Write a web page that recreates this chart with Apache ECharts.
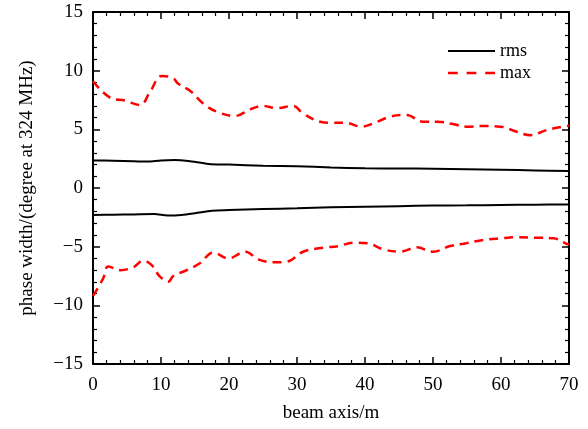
<!DOCTYPE html>
<html>
<head>
<meta charset="utf-8">
<script src="https://cdn.jsdelivr.net/npm/echarts@6/dist/echarts.min.js"></script>
<style>html,body{margin:0;padding:0;background:#fff}#c{width:588px;height:429px}</style>
</head>
<body>
<div id="c"></div>
<script>
// beam axis positions (m) and phase widths (degree at 324 MHz)
const rmsUpperX = [0, 3, 6, 8, 10, 12, 14, 17, 20, 25, 30, 35, 40, 45, 50, 55, 60, 65, 70];
const rmsUpperY = [2.35, 2.32, 2.28, 2.25, 2.35, 2.38, 2.3, 2.05, 2.0, 1.9, 1.85, 1.75, 1.68, 1.66, 1.65, 1.6, 1.55, 1.5, 1.45];
const rmsLowerX = [0, 3, 6, 9, 11, 13, 15, 17.5, 20, 25, 30, 35, 40, 45, 50, 55, 60, 65, 70];
const rmsLowerY = [-2.3, -2.28, -2.25, -2.22, -2.35, -2.3, -2.15, -1.93, -1.88, -1.8, -1.73, -1.65, -1.6, -1.55, -1.5, -1.48, -1.45, -1.42, -1.4];
const maxUpperX = [0, 2.5, 4.7, 6.9, 8.4, 10.1, 11.8, 12.5, 14.3, 16.2, 18.2, 20.9, 23.1, 25, 27, 29.4, 30.9, 33.4, 35.3, 37, 39.5, 41.2, 43.7, 46.1, 48.5, 50.7, 52.9, 54.9, 57.4, 59.9, 62.3, 64.3, 66.7, 69.1, 70];
const maxUpperY = [9.1, 7.7, 7.45, 7.07, 8.2, 9.55, 9.35, 8.9, 8.27, 7.2, 6.5, 6.14, 6.7, 7.0, 6.8, 7.0, 6.35, 5.65, 5.55, 5.57, 5.23, 5.5, 6.08, 6.22, 5.65, 5.65, 5.45, 5.23, 5.28, 5.23, 4.8, 4.5, 4.94, 5.23, 5.3];
const maxLowerX = [0, 1.5, 2.25, 4.0, 5.9, 7.4, 8.6, 9.85, 11.1, 11.8, 13.8, 15.7, 17.7, 19.9, 22.4, 24.3, 26.5, 28.5, 30.9, 33.9, 36.1, 38.3, 40.3, 42.7, 45.1, 47.6, 50.0, 52.5, 54.9, 57.4, 59.9, 62.3, 65.2, 67.7, 69.7, 70];
const maxLowerY = [-9.2, -7.7, -6.7, -7.0, -6.76, -6.2, -6.56, -7.56, -7.98, -7.5, -7.0, -6.42, -5.5, -6.0, -5.43, -6.08, -6.33, -6.28, -5.43, -5.09, -4.95, -4.66, -4.7, -5.23, -5.43, -5.06, -5.43, -4.95, -4.7, -4.43, -4.29, -4.2, -4.24, -4.29, -4.77, -4.8];
const xTicks = [0, 10, 20, 30, 40, 50, 60, 70];
const yTicks = [-15, -10, -5, 0, 5, 10, 15];
const xName = 'beam axis/m';
const yName = 'phase width/(degree at 324 MHz)';

const zip = (xs, ys) => xs.map((x, i) => [x, ys[i]]);
const FONT = 'Liberation Serif';
const FS = 19;
const fmtY = v => (v < 0 ? '\u2212' + Math.abs(v) : String(v));

const axisCommon = {
  axisLine: { show: true, onZero: false, lineStyle: { color: '#000', width: 2 } },
  axisTick: { show: true, inside: true, length: 7, lineStyle: { color: '#000', width: 1.5 } },
  minorTick: { show: true, splitNumber: 5, length: 4, lineStyle: { color: '#000', width: 1.2 } },
  splitLine: { show: false }
};

const chart = echarts.init(document.getElementById('c'), null, { renderer: 'canvas' });
chart.setOption({
  animation: false,
  backgroundColor: '#fff',
  grid: { left: 93, right: 19, top: 12, bottom: 65, containLabel: false, outerBoundsMode: 'none' },
  legend: {
    left: 443, top: 37, orient: 'vertical', itemGap: 4,
    itemWidth: 47, itemHeight: 16,
    textStyle: { fontFamily: FONT, fontSize: 18, color: '#000' },
    data: [
      { name: 'rms', icon: 'path://M0,0 L48,0 L48,2.2 L0,2.2 Z' },
      { name: 'max', icon: 'path://M0,0 L10,0 L10,2.6 L0,2.6 Z M19,0 L29,0 L29,2.6 L19,2.6 Z M38,0 L48,0 L48,2.6 L38,2.6 Z' }
    ]
  },
  xAxis: [
    Object.assign({}, axisCommon, {
      type: 'value', min: xTicks[0], max: xTicks[xTicks.length - 1], interval: 10,
      name: xName, nameLocation: 'middle', nameGap: 40,
      nameTextStyle: { fontFamily: FONT, fontSize: FS, color: '#000' },
      axisLabel: { fontFamily: FONT, fontSize: FS, color: '#000', margin: 12 }
    }),
    Object.assign({}, axisCommon, {
      type: 'value', position: 'top', min: 0, max: 70, interval: 10,
      axisLabel: { show: false }
    })
  ],
  yAxis: [
    Object.assign({}, axisCommon, {
      type: 'value', min: yTicks[0], max: yTicks[yTicks.length - 1], interval: 5,
      name: yName, nameLocation: 'middle', nameGap: 56,
      nameTextStyle: { fontFamily: FONT, fontSize: FS, color: '#000' },
      axisLabel: { fontFamily: FONT, fontSize: FS, color: '#000', margin: 10, formatter: fmtY }
    }),
    Object.assign({}, axisCommon, {
      type: 'value', position: 'right', min: -15, max: 15, interval: 5,
      axisLabel: { show: false }
    })
  ],
  series: [
    { name: 'rms', type: 'line', data: zip(rmsUpperX, rmsUpperY), smooth: 0.3, symbol: 'none',
      lineStyle: { color: '#000', width: 2 }, itemStyle: { color: '#000' } },
    { name: 'rms', type: 'line', data: zip(rmsLowerX, rmsLowerY), smooth: 0.3, symbol: 'none',
      lineStyle: { color: '#000', width: 2 }, itemStyle: { color: '#000' } },
    { name: 'max', type: 'line', data: zip(maxUpperX, maxUpperY), smooth: 0.4, symbol: 'none',
      lineStyle: { color: '#ff0000', width: 2.5, type: [9, 6] }, itemStyle: { color: '#ff0000' } },
    { name: 'max', type: 'line', data: zip(maxLowerX, maxLowerY), smooth: 0.4, symbol: 'none',
      lineStyle: { color: '#ff0000', width: 2.5, type: [9, 6] }, itemStyle: { color: '#ff0000' } }
  ]
});
</script>
</body>
</html>
